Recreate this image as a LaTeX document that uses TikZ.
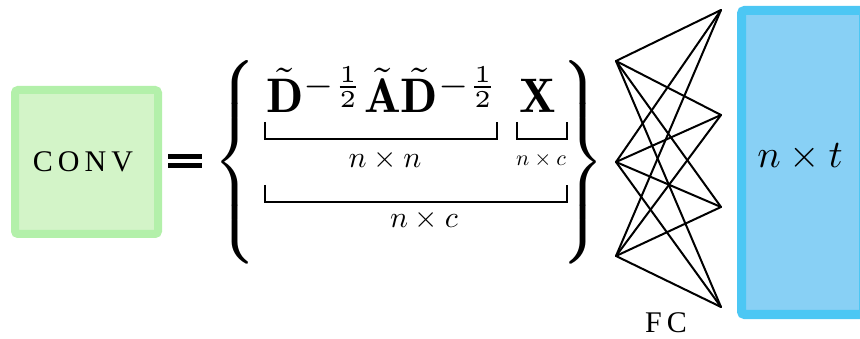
\documentclass[tikz,border=0pt]{standalone}
\usepackage{amsmath}
\usepackage{graphicx}
\usepackage{fontspec}
\newfontfamily\timesfont{Liberation Serif}
\definecolor{gout}{HTML}{B3F0AA}
\definecolor{gin}{HTML}{D3F4C8}
\definecolor{bout}{HTML}{4CC7F4}
\definecolor{bin}{HTML}{88D0F5}
\tikzset{
  bracket/.style={line width=2pt},
  fcline/.style={line width=2pt},
  lbl/.style={inner sep=0pt},
}
\begin{document}
\begin{tikzpicture}[x=1pt,y=-1pt]
\useasboundingbox (0,0) rectangle (860,339);
% CONV box
\node[draw=gout, fill=gin, line width=8pt, rounded corners=3pt, minimum width=143pt, minimum height=144pt, inner sep=0pt] (conv) at (86.5,162) {};
\node[lbl] (convt) at (83,162) {\timesfont\fontsize{30}{31}\selectfont C\kern5pt O\kern5pt N\kern5pt V};
% equals
\fill (168,154) rectangle (202,159);
\fill (168,163.5) rectangle (202,168.5);
% braces
\delimitershortfall=0pt \delimiterfactor=1000
\node[lbl] (lb) at (238,162) {\scalebox{4.85}{$\left\{\vrule height 18.1pt depth 18.1pt width 0pt\right.$}};
\node[lbl] (rb) at (580,162) {\scalebox{4.85}{$\left.\vrule height 18.1pt depth 18.1pt width 0pt\right\}$}};
% formula
\node[lbl, anchor=base west] (dad) at (266,113) {\scalebox{4.85}{$\tilde{\mathbf D}^{-\frac12}\tilde{\mathbf A}\tilde{\mathbf D}^{-\frac12}$}};
\node[lbl, anchor=base west] (xx) at (519,113) {\scalebox{4.85}{$\mathbf X$}};
% brackets
\coordinate (b1a) at (265,122); \coordinate (b1b) at (497,122);
\coordinate (b2a) at (517,122); \coordinate (b2b) at (567,122);
\coordinate (b3a) at (265,185); \coordinate (b3b) at (567,185);
\draw[bracket] (b1a) -- ++(0,17) -| (b1b);
\draw[bracket] (b2a) -- ++(0,17) -| (b2b);
\draw[bracket] (b3a) -- ++(0,17) -| (b3b);
\node[lbl] (l1) at (385,160) {\scalebox{3}{$n\times n$}};
\node[lbl] (l2) at (541,160) {\scalebox{2.2}{$n\times c$}};
\node[lbl] (l3) at (424,220) {\scalebox{3}{$n\times c$}};
% FC
\coordinate (i1) at (616,61); \coordinate (i2) at (616,162); \coordinate (i3) at (616,256);
\coordinate (o1) at (721,10); \coordinate (o2) at (721,115); \coordinate (o3) at (721,207); \coordinate (o4) at (721,307);
\foreach \i in {i1,i2,i3}{\foreach \o in {o1,o2,o3,o4}{\draw[fcline, line cap=round] (\i) -- (\o);}}
\node[lbl] (fc) at (666,323) {\timesfont\fontsize{30}{31}\selectfont F\kern5pt C};
% output box
\node[draw=bout, fill=bin, line width=9pt, rounded corners=3pt, minimum width=122pt, minimum height=304pt, inner sep=0pt] (out) at (802.5,162.5) {};
\node[lbl] (outt) at (800,157) {\scalebox{3.9}{$n\times t$}};
\end{tikzpicture}
\end{document}
